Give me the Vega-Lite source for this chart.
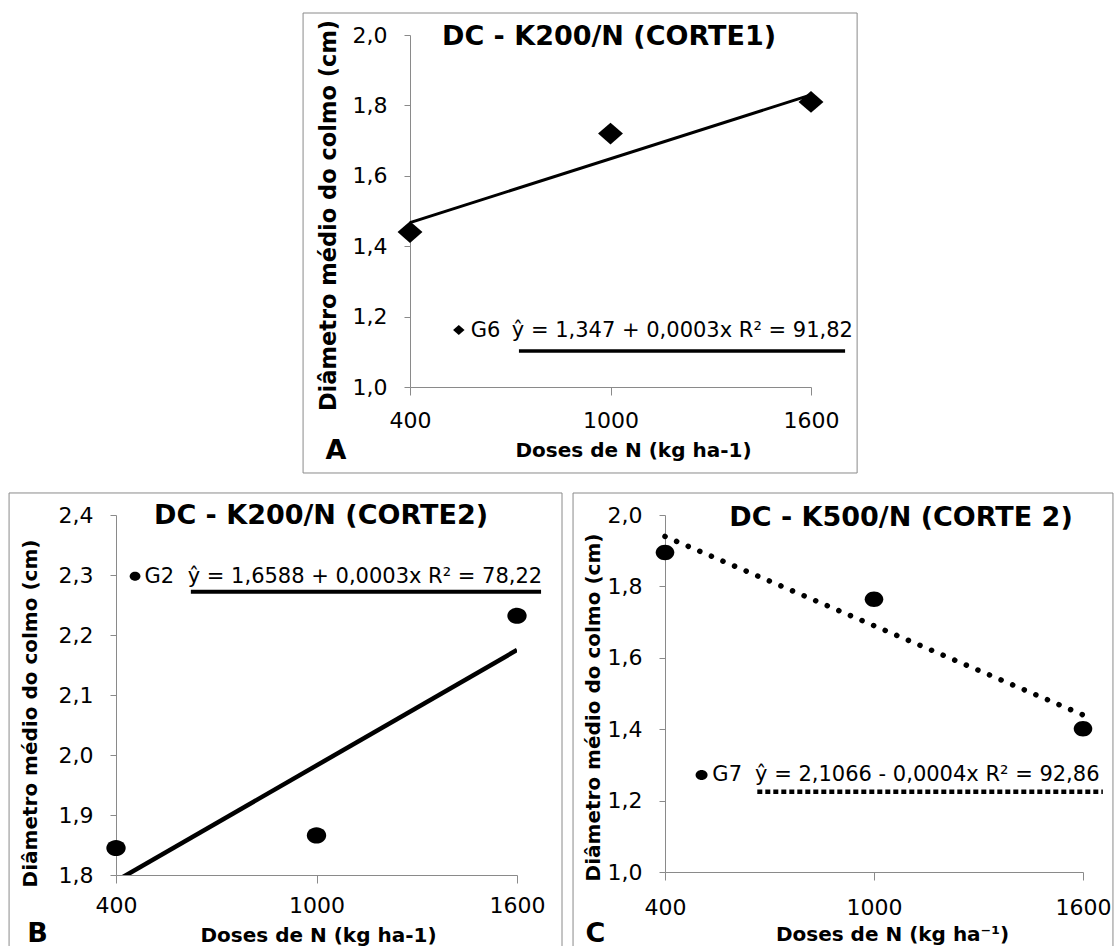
{
  "$schema": "https://vega.github.io/schema/vega-lite/v6.json",
  "padding": {"left": 8, "top": 12, "right": 1, "bottom": 0},
  "bounds": "flush",
  "spacing": 128,
  "config": {
    "font": "DejaVu Sans",
    "view": {"stroke": null},
    "axis": {
      "grid": false,
      "domainColor": "#8a8a8a",
      "tickColor": "#8a8a8a",
      "labelColor": "#000000",
      "labelFont": "DejaVu Sans",
      "labelFontSize": 22,
      "labelFlush": false,
      "labelOverlap": false,
      "titleFont": "DejaVu Sans",
      "titleFontWeight": "bold",
      "titleFontSize": 20,
      "titleColor": "#000000",
      "titleBaseline": "middle"
    },
    "axisX": {"tickSize": 8},
    "axisY": {"tickSize": 6, "labelPadding": 17},
    "title": {"font": "DejaVu Sans", "fontSize": 27, "fontWeight": "bold", "color": "#000000", "anchor": "middle", "frame": "group", "baseline": "middle"},
    "text": {"font": "DejaVu Sans", "color": "#000000"}
  },
  "datasets": {
    "pontos": [
      {"painel": "A", "dose": 400, "diametro": 1.44},
      {"painel": "A", "dose": 1000, "diametro": 1.72},
      {"painel": "A", "dose": 1600, "diametro": 1.81},
      {"painel": "B", "dose": 400, "diametro": 1.845},
      {"painel": "B", "dose": 1000, "diametro": 1.866},
      {"painel": "B", "dose": 1600, "diametro": 2.232},
      {"painel": "C", "dose": 400, "diametro": 1.895},
      {"painel": "C", "dose": 1000, "diametro": 1.764},
      {"painel": "C", "dose": 1600, "diametro": 1.401}
    ],
    "tendencia": [
      {"painel": "A", "dose": 400, "ajuste": 1.467},
      {"painel": "A", "dose": 1600, "ajuste": 1.83},
      {"painel": "B", "dose": 400, "ajuste": 1.79},
      {"painel": "B", "dose": 1600, "ajuste": 2.175},
      {"painel": "C", "dose": 400, "ajuste": 1.94},
      {"painel": "C", "dose": 1600, "ajuste": 1.44}
    ]
  },
  "vconcat": [
    {
      "width": 695,
      "height": 352,
      "title": {"text": "DC - K200/N (CORTE1)", "offset": -38.5, "dx": 145.5},
      "layer": [
        {
          "data": {"name": "pontos"},
          "transform": [{"filter": "datum.painel == 'A'"}],
          "mark": {"type": "point", "shape": "M-1.15,0L0,-1L1.15,0L0,1Z", "filled": true, "color": "#000000", "opacity": 1, "size": 470},
          "encoding": {
            "x": {
              "field": "dose", "type": "quantitative",
              "scale": {"domain": [400, 1600], "range": [294, 695], "nice": false, "zero": false},
              "axis": {"values": [400, 1000, 1600], "format": "d", "labelPadding": 15, "title": "Doses de N (kg ha-1)", "titleX": 517, "titleY": 63}
            },
            "y": {
              "field": "diametro", "type": "quantitative",
              "scale": {"domain": [1, 2], "nice": false, "zero": false},
              "axis": {"values": [1, 1.2, 1.4, 1.6, 1.8, 2], "labelExpr": "replace(format(datum.value, '.1f'), '.', ',')", "offset": -294, "title": "Diâmetro médio do colmo (cm)", "titleFontSize": 22.5, "titleX": -82, "titleY": 180}
            }
          }
        },
        {
          "data": {"values": [{}]},
          "mark": {"type": "rect", "filled": false, "color": "#8a8a8a", "strokeWidth": 1},
          "encoding": {
            "x": {"datum": 80, "type": "quantitative"},
            "x2": {"datum": 1738},
            "y": {"datum": 2.0625, "type": "quantitative"},
            "y2": {"datum": 0.7557}
          }
        },
        {
          "data": {"name": "tendencia"},
          "transform": [{"filter": "datum.painel == 'A'"}],
          "mark": {"type": "line", "color": "#000000", "strokeWidth": 3},
          "encoding": {
            "x": {"field": "dose", "type": "quantitative"},
            "y": {"field": "ajuste", "type": "quantitative"}
          }
        },
        {
          "data": {"values": [{}]},
          "mark": {"type": "point", "shape": "M-1.15,0L0,-1L1.15,0L0,1Z", "filled": true, "color": "#000000", "opacity": 1, "size": 100},
          "encoding": {
            "x": {"datum": 546, "type": "quantitative"},
            "y": {"datum": 1.162, "type": "quantitative"}
          }
        },
        {
          "data": {"values": [{}]},
          "mark": {"type": "text", "text": "G6", "align": "left", "baseline": "middle", "fontSize": 21},
          "encoding": {
            "x": {"datum": 582, "type": "quantitative"},
            "y": {"datum": 1.16, "type": "quantitative"}
          }
        },
        {
          "data": {"values": [{}]},
          "mark": {"type": "text", "text": "ŷ = 1,347 + 0,0003x R² = 91,82", "align": "center", "baseline": "middle", "fontSize": 21},
          "encoding": {
            "x": {"datum": 1215, "type": "quantitative"},
            "y": {"datum": 1.159, "type": "quantitative"}
          }
        },
        {
          "data": {"values": [{}]},
          "mark": {"type": "rule", "color": "#000000", "strokeWidth": 3.5},
          "encoding": {
            "x": {"datum": 726, "type": "quantitative"},
            "x2": {"datum": 1702},
            "y": {"datum": 1.102, "type": "quantitative"}
          }
        },
        {
          "data": {"values": [{}]},
          "mark": {"type": "text", "text": "A", "align": "center", "baseline": "middle", "fontSize": 27, "fontWeight": "bold"},
          "encoding": {
            "x": {"datum": 178.6, "type": "quantitative"},
            "y": {"datum": 0.818, "type": "quantitative"}
          }
        }
      ]
    },
    {
      "spacing": 9,
      "hconcat": [
        {
          "width": 401,
          "height": 360,
          "title": {"text": "DC - K200/N (CORTE2)", "offset": -37.5, "dx": 4.5},
          "layer": [
            {
              "data": {"name": "pontos"},
              "transform": [{"filter": "datum.painel == 'B'"}],
              "mark": {"type": "point", "shape": "M-1.2,0A1.2,1 0 1,0 1.2,0A1.2,1 0 1,0 -1.2,0Z", "filled": true, "color": "#000000", "opacity": 1, "size": 260},
              "encoding": {
                "x": {
                  "field": "dose", "type": "quantitative",
                  "scale": {"domain": [400, 1600], "nice": false, "zero": false},
                  "axis": {"values": [400, 1000, 1600], "format": "d", "labelPadding": 12, "title": "Doses de N (kg ha-1)", "titleX": 202, "titleY": 60}
                },
                "y": {
                  "field": "diametro", "type": "quantitative",
                  "scale": {"domain": [1.8, 2.4], "nice": false, "zero": false},
                  "axis": {"values": [1.8, 1.9, 2, 2.1, 2.2, 2.3, 2.4], "labelExpr": "replace(format(datum.value, '.1f'), '.', ',')", "title": "Diâmetro médio do colmo (cm)", "titleX": -86, "titleY": 198}
                }
              }
            },
            {
              "data": {"values": [{}]},
              "mark": {"type": "rule", "color": "#8a8a8a", "strokeWidth": 1},
              "encoding": {
                "x": {"datum": 80, "type": "quantitative"},
                "y": {"datum": 2.4367, "type": "quantitative"},
                "y2": {"datum": 1.6817}
              }
            },
            {
              "data": {"values": [{}]},
              "mark": {"type": "rule", "color": "#8a8a8a", "strokeWidth": 1},
              "encoding": {
                "x": {"datum": 1734.7, "type": "quantitative"},
                "y": {"datum": 2.4367, "type": "quantitative"},
                "y2": {"datum": 1.6817}
              }
            },
            {
              "data": {"values": [{}]},
              "mark": {"type": "rule", "color": "#8a8a8a", "strokeWidth": 1},
              "encoding": {
                "x": {"datum": 80, "type": "quantitative"},
                "x2": {"datum": 1734.7},
                "y": {"datum": 2.4367, "type": "quantitative"}
              }
            },
            {
              "data": {"name": "tendencia"},
              "transform": [{"filter": "datum.painel == 'B'"}],
              "mark": {"type": "line", "color": "#000000", "strokeWidth": 4.5, "clip": true},
              "encoding": {
                "x": {"field": "dose", "type": "quantitative"},
                "y": {"field": "ajuste", "type": "quantitative"}
              }
            },
            {
              "data": {"values": [{}]},
              "mark": {"type": "point", "shape": "M-1.2,0A1.2,1 0 1,0 1.2,0A1.2,1 0 1,0 -1.2,0Z", "filled": true, "color": "#000000", "opacity": 1, "size": 80},
              "encoding": {
                "x": {"datum": 457, "type": "quantitative"},
                "y": {"datum": 2.298, "type": "quantitative"}
              }
            },
            {
              "data": {"values": [{}]},
              "mark": {"type": "text", "text": "G2", "align": "left", "baseline": "middle", "fontSize": 21},
              "encoding": {
                "x": {"datum": 485, "type": "quantitative"},
                "y": {"datum": 2.297, "type": "quantitative"}
              }
            },
            {
              "data": {"values": [{}]},
              "mark": {"type": "text", "text": "ŷ = 1,6588 + 0,0003x R² = 78,22", "align": "center", "baseline": "middle", "fontSize": 21},
              "encoding": {
                "x": {"datum": 1145, "type": "quantitative"},
                "y": {"datum": 2.297, "type": "quantitative"}
              }
            },
            {
              "data": {"values": [{}]},
              "mark": {"type": "rule", "color": "#000000", "strokeWidth": 4},
              "encoding": {
                "x": {"datum": 624, "type": "quantitative"},
                "x2": {"datum": 1672},
                "y": {"datum": 2.272, "type": "quantitative"}
              }
            },
            {
              "data": {"values": [{}]},
              "mark": {"type": "text", "text": "B", "align": "center", "baseline": "middle", "fontSize": 27, "fontWeight": "bold"},
              "encoding": {
                "x": {"datum": 165, "type": "quantitative"},
                "y": {"datum": 1.702, "type": "quantitative"}
              }
            }
          ]
        },
        {
          "width": 418,
          "height": 357,
          "title": {"text": "DC - K500/N (CORTE 2)", "offset": -39.5, "dx": 27},
          "layer": [
            {
              "data": {"name": "pontos"},
              "transform": [{"filter": "datum.painel == 'C'"}],
              "mark": {"type": "point", "shape": "M-1.2,0A1.2,1 0 1,0 1.2,0A1.2,1 0 1,0 -1.2,0Z", "filled": true, "color": "#000000", "opacity": 1, "size": 240},
              "encoding": {
                "x": {
                  "field": "dose", "type": "quantitative",
                  "scale": {"domain": [400, 1600], "nice": false, "zero": false},
                  "axis": {"values": [400, 1000, 1600], "format": "d", "labelPadding": 17, "title": "Doses de N (kg ha⁻¹)", "titleX": 227, "titleY": 62}
                },
                "y": {
                  "field": "diametro", "type": "quantitative",
                  "scale": {"domain": [1, 2], "nice": false, "zero": false},
                  "axis": {"values": [1, 1.2, 1.4, 1.6, 1.8, 2], "labelExpr": "replace(format(datum.value, '.1f'), '.', ',')", "title": "Diâmetro médio do colmo (cm)", "titleX": -72, "titleY": 192}
                }
              }
            },
            {
              "data": {"values": [{}]},
              "mark": {"type": "rule", "color": "#8a8a8a", "strokeWidth": 1},
              "encoding": {
                "x": {"datum": 136, "type": "quantitative"},
                "y": {"datum": 2.0616, "type": "quantitative"},
                "y2": {"datum": 0.7927}
              }
            },
            {
              "data": {"values": [{}]},
              "mark": {"type": "rule", "color": "#8a8a8a", "strokeWidth": 1},
              "encoding": {
                "x": {"datum": 1686, "type": "quantitative"},
                "y": {"datum": 2.0616, "type": "quantitative"},
                "y2": {"datum": 0.7927}
              }
            },
            {
              "data": {"values": [{}]},
              "mark": {"type": "rule", "color": "#8a8a8a", "strokeWidth": 1},
              "encoding": {
                "x": {"datum": 136, "type": "quantitative"},
                "x2": {"datum": 1686},
                "y": {"datum": 2.0616, "type": "quantitative"}
              }
            },
            {
              "data": {"name": "tendencia"},
              "transform": [{"filter": "datum.painel == 'C'"}],
              "mark": {"type": "line", "color": "#000000", "strokeWidth": 5.5, "strokeCap": "round", "strokeDash": [0.1, 12.5]},
              "encoding": {
                "x": {"field": "dose", "type": "quantitative"},
                "y": {"field": "ajuste", "type": "quantitative"}
              }
            },
            {
              "data": {"values": [{}]},
              "mark": {"type": "point", "shape": "M-1.2,0A1.2,1 0 1,0 1.2,0A1.2,1 0 1,0 -1.2,0Z", "filled": true, "color": "#000000", "opacity": 1, "size": 100},
              "encoding": {
                "x": {"datum": 505, "type": "quantitative"},
                "y": {"datum": 1.272, "type": "quantitative"}
              }
            },
            {
              "data": {"values": [{}]},
              "mark": {"type": "text", "text": "G7", "align": "left", "baseline": "middle", "fontSize": 21},
              "encoding": {
                "x": {"datum": 536, "type": "quantitative"},
                "y": {"datum": 1.272, "type": "quantitative"}
              }
            },
            {
              "data": {"values": [{}]},
              "mark": {"type": "text", "text": "ŷ = 2,1066 - 0,0004x R² = 92,86", "align": "center", "baseline": "middle", "fontSize": 21},
              "encoding": {
                "x": {"datum": 1153, "type": "quantitative"},
                "y": {"datum": 1.272, "type": "quantitative"}
              }
            },
            {
              "data": {"values": [{}]},
              "mark": {"type": "rule", "color": "#000000", "strokeWidth": 4.5, "strokeDash": [5, 3]},
              "encoding": {
                "x": {"datum": 665, "type": "quantitative"},
                "x2": {"datum": 1657},
                "y": {"datum": 1.225, "type": "quantitative"}
              }
            },
            {
              "data": {"values": [{}]},
              "mark": {"type": "text", "text": "C", "align": "center", "baseline": "middle", "fontSize": 27, "fontWeight": "bold"},
              "encoding": {
                "x": {"datum": 200.5, "type": "quantitative"},
                "y": {"datum": 0.826, "type": "quantitative"}
              }
            }
          ]
        }
      ]
    }
  ]
}
